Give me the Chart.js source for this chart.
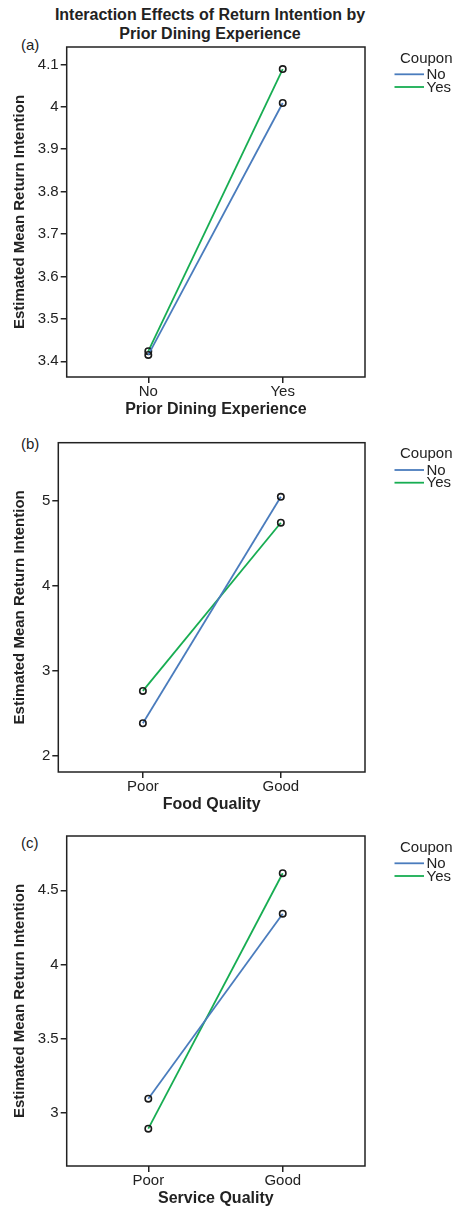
<!DOCTYPE html>
<html>
<head>
<meta charset="utf-8">
<script src="https://cdn.jsdelivr.net/npm/chart.js@4.4.1/dist/chart.umd.min.js"></script>
<style>
  html, body { margin: 0; padding: 0; background: #ffffff; }
  body { width: 456px; height: 1211px; position: relative; overflow: hidden; font-family: "Liberation Sans", Arial, sans-serif; color: #222; }
  canvas { position: absolute; left: 0; }
  .txt { position: absolute; white-space: nowrap; }
  #title { left: 0; width: 420px; top: 5px; text-align: center; font-weight: bold; font-size: 16px; line-height: 19px; }
  .tag { font-size: 15px; line-height: 16px; left: 21px; }
</style>
</head>
<body>
<div id="title" class="txt">Interaction Effects of Return Intention by<br>Prior Dining Experience</div>
<div class="txt tag" style="top:37px;">(a)</div>
<div class="txt tag" style="top:436px;">(b)</div>
<div class="txt tag" style="top:835px;">(c)</div>
<canvas id="cA" width="456" height="419" style="top:0px;"></canvas>
<canvas id="cB" width="456" height="394" style="top:420px;"></canvas>
<canvas id="cC" width="456" height="388" style="top:820px;"></canvas>
<script>
// ---- data ----
const priorCats = ['No', 'Yes'];
const foodCats = ['Poor', 'Good'];
const serviceCats = ['Poor', 'Good'];
const seriesNames = ['No', 'Yes'];
const legendTitle = 'Coupon';

const priorNo = [3.415, 4.009];
const priorYes = [3.424, 4.089];
const foodNo = [2.384, 5.05];
const foodYes = [2.765, 4.745];
const serviceNo = [3.094, 4.342];
const serviceYes = [2.892, 4.615];

const priorTicks = [3.4, 3.5, 3.6, 3.7, 3.8, 3.9, 4, 4.1];
const foodTicks = [2, 3, 4, 5];
const serviceTicks = [3, 3.5, 4, 4.5];

const yTitle = 'Estimated Mean Return Intention';
// ---- style ----
const BLUE = '#4a7cbd';
const GREEN = '#17ad52';
const INK = '#222222';
const FONT = '"Liberation Sans", Arial, sans-serif';

const boxPlugin = {
  id: 'frameBox',
  beforeDatasetsDraw(chart) {
    const {ctx, chartArea: a} = chart;
    ctx.save();
    ctx.strokeStyle = INK;
    ctx.lineWidth = 1.5;
    ctx.strokeRect(a.left, a.top, a.right - a.left, a.bottom - a.top);
    ctx.restore();
  }
};

const legendPlugin = {
  id: 'sideLegend',
  afterDraw(chart) {
    const {ctx, chartArea: a} = chart;
    ctx.save();
    ctx.fillStyle = INK;
    ctx.font = '15px ' + FONT;
    ctx.textAlign = 'left';
    ctx.textBaseline = 'alphabetic';
    ctx.fillText(legendTitle, a.right + 35, a.top + 15.5);
    chart.data.datasets.forEach((ds, i) => {
      const y = a.top + 27.3 + i * 12.7;
      ctx.strokeStyle = ds.borderColor;
      ctx.lineWidth = 1.8;
      ctx.beginPath();
      ctx.moveTo(a.right + 29.5, y);
      ctx.lineTo(a.right + 59, y);
      ctx.stroke();
      ctx.fillStyle = INK;
      ctx.textBaseline = 'middle';
      ctx.fillText(ds.label, a.right + 61.5, y + 0.5);
    });
    ctx.restore();
  }
};

function makeChart(id, cats, noVals, yesVals, yTicks, xTitle, geo) {
  const toPts = vals => vals.map((v, i) => ({x: i, y: v}));
  const dsStyle = color => ({
    borderColor: color,
    backgroundColor: color,
    borderWidth: 1.8,
    pointRadius: 3.2,
    pointBorderWidth: 1.6,
    pointBorderColor: '#1a1a1a',
    pointBackgroundColor: 'rgba(255,255,255,0)',
    fill: false,
    tension: 0
  });
  return new Chart(document.getElementById(id), {
    type: 'line',
    data: {
      datasets: [
        Object.assign({label: seriesNames[0], data: toPts(noVals)}, dsStyle(BLUE)),
        Object.assign({label: seriesNames[1], data: toPts(yesVals)}, dsStyle(GREEN))
      ]
    },
    options: {
      responsive: false,
      animation: false,
      devicePixelRatio: 1,
      layout: { padding: { top: geo.padTop, right: 91, bottom: 0, left: 0 } },
      plugins: { legend: { display: false }, tooltip: { enabled: false }, title: { display: false } },
      scales: {
        x: {
          type: 'linear',
          min: geo.xMin, max: geo.xMax,
          offset: false,
          afterFit: s => { s.height = 42; },
          afterBuildTicks: s => { s.ticks = cats.map((c, i) => ({value: i})); },
          border: { display: false },
          grid: { drawOnChartArea: false, drawTicks: true, tickLength: 6, color: INK, lineWidth: 1.5 },
          ticks: { callback: v => cats[v], color: INK, font: { family: FONT, size: 15 }, padding: 0, maxRotation: 0, autoSkip: false },
          title: { display: true, text: xTitle, color: INK, font: { family: FONT, size: 16, weight: 'bold' }, padding: { top: 0, bottom: 0 } }
        },
        y: {
          type: 'linear',
          min: geo.yMin, max: geo.yMax,
          afterFit: s => { s.width = geo.yWidth; },
          afterBuildTicks: s => { s.ticks = yTicks.map(v => ({value: v})); },
          border: { display: false },
          grid: { drawOnChartArea: false, drawTicks: true, tickLength: 6, color: INK, lineWidth: 1.5 },
          ticks: { callback: v => String(v), color: INK, font: { family: FONT, size: 15 }, padding: 2, autoSkip: false },
          title: { display: true, text: yTitle, color: INK, font: { family: FONT, size: 15, weight: 'bold' }, padding: { top: geo.yTitlePad, bottom: 0 } }
        }
      }
    },
    plugins: [boxPlugin, legendPlugin]
  });
}

makeChart('cA', priorCats, priorNo, priorYes, priorTicks, 'Prior Dining Experience',
  { padTop: 47, xMin: -0.607, xMax: 1.612, yMin: 3.363, yMax: 4.141, yWidth: 66.7, yTitlePad: 11 });
makeChart('cB', foodCats, foodNo, foodYes, foodTicks, 'Food Quality',
  { padTop: 22.7, xMin: -0.613, xMax: 1.61, yMin: 1.81, yMax: 5.687, yWidth: 58.3, yTitlePad: 10.5 });
makeChart('cC', serviceCats, serviceNo, serviceYes, serviceTicks, 'Service Quality',
  { padTop: 16, xMin: -0.607, xMax: 1.612, yMin: 2.64, yMax: 4.866, yWidth: 66.7, yTitlePad: 10.5 });
</script>
</body>
</html>
